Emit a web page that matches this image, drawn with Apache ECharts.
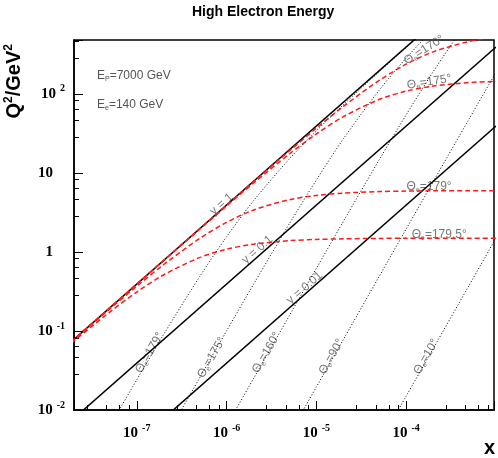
<!DOCTYPE html>
<html>
<head>
    <meta charset="utf-8">
    <title></title>
    <style type="text/css">
        body { margin: 0; background: #fff; }
    </style>
</head>
<body>
<div id="main" style="width: 498px;height:458px;"></div>

<script type="text/javascript" src="https://cdn.jsdelivr.net/npm/echarts@6/dist/echarts.min.js"></script>
<script type="text/javascript">
    // Q2 versus x, HERA-like kinematics
    var xs = [1e-8, 2e-8, 5e-8, 1e-7, 2e-7, 5e-7, 1e-6, 2e-6, 5e-6, 1e-5, 2e-5, 5e-5, 1e-4, 2e-4, 5e-4, 1e-3];

    // constant y lines (straight in log-log), end points
    var yLineX = [1e-8, 1e-3];
    var yLine1 = [0.0392, 3920];
    var yLine01 = [0.00392, 392];
    var yLine001 = [0.000392, 39.2];

    // constant electron angle (red dashed), values at xs
    var qE170 = [0.0392, 0.07839, 0.1959, 0.3917, 0.7830, 1.954, 3.894, 7.738, 18.98, 36.79, 69.34, 147.7, 237.1, 339.9, 459.4, 520.3];
    var qE175 = [0.03919, 0.07836, 0.1957, 0.391, 0.780, 1.935, 3.820, 7.446, 17.33, 31.06, 51.41, 84.82, 108.2, 125.5, 138.9, 144.0];
    var qE179 = [0.03894, 0.0774, 0.1898, 0.3679, 0.693, 1.476, 2.366, 3.389, 4.577, 5.181, 5.547, 5.794, 5.881, 5.925, 5.952, 5.961];
    var qE1795 = [0.0382, 0.0745, 0.1733, 0.3105, 0.514, 0.847, 1.081, 1.254, 1.387, 1.438, 1.465, 1.482, 1.487, 1.490, 1.491, 1.492];

    // constant hadron angle (black dotted)
    var xH179 = [5e-8, 1e-7, 2e-7, 5e-7, 1e-6, 2e-6, 5e-6, 1e-5, 2e-5, 5e-5, 1e-4, 2e-4];
    var qH179 = [0.006229, 0.02415, 0.09101, 0.4844, 1.554, 4.451, 15.02, 34.02, 72.85, 190.2, 386.1, 778.1];
    var xH175 = [2e-7, 5e-7, 1e-6, 2e-6, 5e-6, 1e-5, 2e-5, 5e-5, 1e-4, 2e-4];
    var qH175 = [0.00409, 0.02536, 0.1002, 0.3907, 2.272, 8.143, 26.97, 111.2, 283.8, 658.4];
    var xH160 = [1e-6, 2e-6, 5e-6, 1e-5, 2e-5, 5e-5, 1e-4, 2e-4, 5e-4, 1e-3];
    var qH160 = [0.006294, 0.02514, 0.1563, 0.6204, 2.443, 14.59, 54.31, 190.8, 873.6, 2417];
    var xH90 = [5e-6, 1e-5, 2e-5, 5e-5, 1e-4, 2e-4, 5e-4, 1e-3];
    var qH90 = [0.004899, 0.01959, 0.07832, 0.4888, 1.950, 7.762, 47.80, 186.7];
    var xH10 = [5e-5, 1e-4, 2e-4, 5e-4, 1e-3];
    var qH10 = [0.003751, 0.015, 0.06, 0.375, 1.4997];

    // text annotations: [x, Q2, text]
    var yLabels = [[8.8e-7, 4.0, 'y = 1'], [2.2e-6, 1.06, 'y = 0.1'], [7.4e-6, 0.35, 'y = 0.01']];
    var hLabels = [[1.39e-7, 0.0532, '179°'], [6.8e-7, 0.046, '175°'], [2.78e-6, 0.0532, '160°'],
                   [1.47e-5, 0.0473, '90°'], [1.67e-4, 0.0473, '10°']];
    var eLabels = [[1.58e-4, 359, '170°', 32], [1.8e-4, 141.6, '175°', 9],
                   [1.8e-4, 6.66, '179°', 0], [2.33e-4, 1.64, '179.5°', 0]];

    var myChart = echarts.init(document.getElementById('main'));

    function pairs(x, q) {
        return x.map(function (v, i) { return [v, q[i]]; });
    }

    function powLabel(v) {
        var e = Math.round(Math.log10(v));
        if (e === 0) return '{b|1}{g|}';
        if (e === 1) return '{b|10}{g|}';
        return '{b|10}{e|' + e + '}';
    }

    var labRich = {
        b: { fontFamily: 'Liberation Serif', fontWeight: 'bold', fontSize: 15, color: '#000' },
        e: { fontFamily: 'Liberation Serif', fontWeight: 'bold', fontSize: 10, color: '#000', padding: [0, 0, 10, 4] },
        g: { width: 12 }
    };

    var annRich = {
        t: { fontFamily: 'Liberation Sans', fontSize: 12, color: '#555' },
        s: { fontFamily: 'Liberation Sans', fontSize: 7, color: '#555', padding: [6, 0, 0, 0] }
    };

    function solid(data) {
        return { type: 'line', data: data, symbol: 'none', silent: true,
            lineStyle: { color: '#000', width: 1.5 } };
    }
    function red(data) {
        return { type: 'line', data: data, symbol: 'none', silent: true, smooth: 0.3,
            lineStyle: { color: '#ff1a1a', width: 1.5, type: [5, 3] } };
    }
    function dotted(data) {
        return { type: 'line', data: data, symbol: 'none', silent: true, smooth: 0.3,
            lineStyle: { color: '#000', width: 1, type: [1, 2] } };
    }
    function textSeries(items, rotate) {
        return {
            type: 'scatter', symbolSize: 0, silent: true,
            data: items.map(function (d) {
                return { value: [d[0], d[1]], label: { rotate: d[3] !== undefined ? d[3] : rotate } };
            }),
            label: {
                show: true, position: 'inside', align: 'center', verticalAlign: 'middle',
                formatter: function (p) { return items[p.dataIndex][2]; },
                fontFamily: 'Liberation Sans', fontSize: 12, color: '#555'
            }
        };
    }
    function angleSeries(items, rotate, sub) {
        var s = textSeries(items, rotate);
        s.label.formatter = function (p) {
            return '{t|\u0398}{s|' + sub + '}{t|=' + items[p.dataIndex][2] + '}';
        };
        s.label.rich = annRich;
        return s;
    }

    var axisCommon = {
        type: 'log',
        logBase: 10,
        axisLine: { show: true, lineStyle: { color: '#000', width: 1.5 } },
        axisTick: { show: true, inside: true, length: 9, lineStyle: { color: '#000', width: 1 } },
        minorTick: { show: true, length: 5, lineStyle: { color: '#000', width: 1 } },
        splitLine: { show: false },
        minorSplitLine: { show: false }
    };

    myChart.setOption({
        animation: false,
        backgroundColor: '#fff',
        title: {
            text: 'High Electron Energy',
            left: 187, top: 0,
            textStyle: { fontFamily: 'Liberation Sans', fontWeight: 'bold', fontSize: 14, color: '#000' }
        },
        grid: { left: 74, right: 4, top: 40, bottom: 48, show: true, borderColor: '#000', borderWidth: 1.5 },
        xAxis: Object.assign({}, axisCommon, {
            min: 2e-8, max: 9.5e-4,
            axisLabel: { formatter: powLabel, rich: labRich, margin: 13, showMinLabel: false, showMaxLabel: false }
        }),
        yAxis: Object.assign({}, axisCommon, {
            min: 0.01, max: 480,
            axisLabel: { formatter: powLabel, rich: labRich, margin: 9, showMinLabel: true, showMaxLabel: false }
        }),
        graphic: [
            { type: 'text', left: 3, top: 44, rotation: Math.PI / 2,
              style: { rich: { q: { fontFamily: 'Liberation Sans', fontWeight: 'bold', fontSize: 20, fill: '#000' },
                               p: { fontFamily: 'Liberation Sans', fontWeight: 'bold', fontSize: 12, fill: '#000', padding: [0, 0, 10, 0] } },
                       text: '{q|Q}{p|2}{q|/GeV}{p|2}' } },
            { type: 'text', left: 484, top: 438,
              style: { text: 'x', fontFamily: 'Liberation Sans', fontWeight: 'bold', fontSize: 20, fill: '#000' } },
            { type: 'text', left: 97, top: 70,
              style: { rich: annRich, text: '{t|E}{s|P}{t|=7000 GeV}', fill: '#555' } },
            { type: 'text', left: 97, top: 99,
              style: { rich: annRich, text: '{t|E}{s|e}{t|=140 GeV}', fill: '#555' } }
        ],
        series: [
            solid(pairs(yLineX, yLine1)),
            solid(pairs(yLineX, yLine01)),
            solid(pairs(yLineX, yLine001)),
            red(pairs(xs, qE170)),
            red(pairs(xs, qE175)),
            red(pairs(xs, qE179)),
            red(pairs(xs, qE1795)),
            dotted(pairs(xH179, qH179)),
            dotted(pairs(xH175, qH175)),
            dotted(pairs(xH160, qH160)),
            dotted(pairs(xH90, qH90)),
            dotted(pairs(xH10, qH10)),
            textSeries(yLabels, 41),
            angleSeries(hLabels, 60, 'e'),
            angleSeries(eLabels, 0, 'e')
        ]
    });
</script>

</body>
</html>
